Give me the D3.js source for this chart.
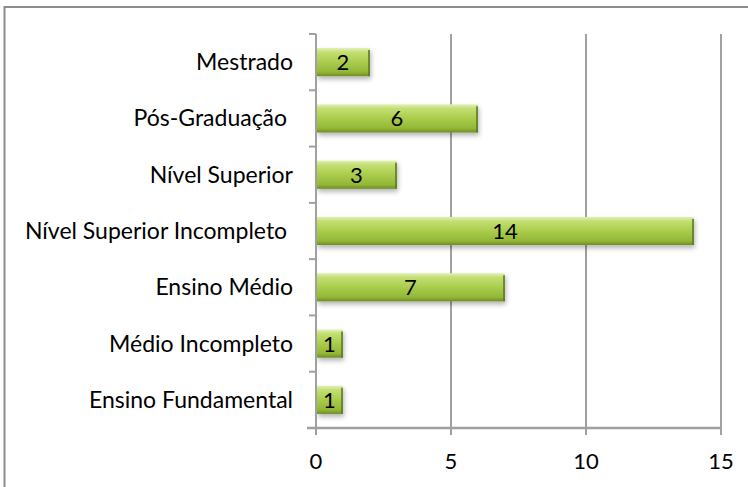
<!DOCTYPE html>
<html><head><meta charset="utf-8">
<script src="https://cdn.jsdelivr.net/npm/d3@7"></script>
<style>body{margin:0;background:#fff}svg{display:block}</style>
</head><body>
<svg id="c" width="748" height="487"></svg>
<script>
const categories = ["Mestrado","Pós-Graduação ","Nível Superior","Nível Superior Incompleto ","Ensino Médio","Médio Incompleto","Ensino Fundamental"];
const values = [2,6,3,14,7,1,1];
const ticks = [0,5,10,15];

const svg = d3.select("#c");
const FONT="Lato, sans-serif";
const m={l:316,r:721,t:34,b:428};
const x=d3.scaleLinear().domain([0,15]).range([m.l,m.r]);
const y=d3.scaleBand().domain(categories).range([m.t,m.b]).paddingInner(0.5).paddingOuter(0.25);

const defs=svg.append("defs");
const g=defs.append("linearGradient").attr("id","bg").attr("x1",0).attr("y1",0).attr("x2",0).attr("y2",1);
[[0,"#e2f0b4"],[0.15,"#c3df72"],[0.5,"#aacc4c"],[0.85,"#93b737"],[1,"#6f8d25"]].forEach(s=>g.append("stop").attr("offset",s[0]).attr("stop-color",s[1]));
const f=defs.append("filter").attr("id","sh").attr("x","-10%").attr("y","-30%").attr("width","130%").attr("height","180%");
f.append("feGaussianBlur").attr("in","SourceAlpha").attr("stdDeviation",2.5);
f.append("feOffset").attr("dx",1).attr("dy",3).attr("result","b");
f.append("feComponentTransfer").append("feFuncA").attr("type","linear").attr("slope",0.3);
const mg=f.append("feMerge");mg.append("feMergeNode");mg.append("feMergeNode").attr("in","SourceGraphic");

// border
svg.append("rect").attr("x",4.5).attr("y",7).attr("width",800).attr("height",600).attr("fill","none").attr("stroke","#8c8c8c").attr("stroke-width",2);

// gridlines
svg.append("g").selectAll("line").data(ticks.slice(1)).join("line")
 .attr("x1",d=>x(d)).attr("x2",d=>x(d)).attr("y1",m.t).attr("y2",m.b)
 .attr("stroke","#a0a0a0").attr("stroke-width",2);

// bars
const bars=svg.append("g");
bars.selectAll("rect").data(values).join("rect")
 .attr("x",x(0)+1).attr("y",(d,i)=>y(categories[i]))
 .attr("width",d=>x(d)-x(0)-1).attr("height",y.bandwidth())
 .attr("fill","url(#bg)").attr("filter","url(#sh)");
bars.selectAll("line").data(values).join("line")
 .attr("x1",d=>x(d)-1).attr("x2",d=>x(d)-1)
 .attr("y1",(d,i)=>y(categories[i])+2).attr("y2",(d,i)=>y(categories[i])+y.bandwidth())
 .attr("stroke","#5f7a20").attr("stroke-width",2).attr("opacity",0.8);

// value labels
svg.append("g").selectAll("text").data(values).join("text")
 .attr("x",d=>(x(0)+x(d))/2).attr("y",(d,i)=>y(categories[i])+y.bandwidth()/2+8)
 .attr("text-anchor","middle").attr("font-family",FONT).attr("font-size",22).attr("fill","#000")
 .text(d=>d);

// category axis
const ya=svg.append("g");
ya.append("line").attr("x1",m.l).attr("x2",m.l).attr("y1",m.t).attr("y2",m.b).attr("stroke","#a0a0a0").attr("stroke-width",2);
const step=(m.b-m.t)/categories.length;
ya.selectAll("line.t").data(d3.range(categories.length+1)).join("line").attr("class","t")
 .attr("x1",m.l-7).attr("x2",m.l).attr("y1",i=>m.t+i*step).attr("y2",i=>m.t+i*step)
 .attr("stroke","#a0a0a0").attr("stroke-width",2);
ya.selectAll("text").data(categories).join("text")
 .attr("x",293).attr("y",d=>y(d)+y.bandwidth()/2+8)
 .attr("text-anchor","end").attr("font-family",FONT).attr("font-size",23).attr("fill","#000")
 .attr("xml:space","preserve").style("white-space","pre")
 .text(d=>d);

// value axis
const xa=svg.append("g");
xa.append("line").attr("x1",m.l-9).attr("x2",m.r+1).attr("y1",m.b).attr("y2",m.b).attr("stroke","#a0a0a0").attr("stroke-width",2.5);
xa.selectAll("line.t").data(ticks).join("line").attr("class","t")
 .attr("x1",d=>x(d)).attr("x2",d=>x(d)).attr("y1",m.b).attr("y2",m.b+7)
 .attr("stroke","#a0a0a0").attr("stroke-width",2);
xa.selectAll("text").data(ticks).join("text")
 .attr("x",d=>x(d)).attr("y",469)
 .attr("text-anchor","middle").attr("font-family",FONT).attr("font-size",22).attr("fill","#000")
 .text(d=>d);
</script>
</body></html>
